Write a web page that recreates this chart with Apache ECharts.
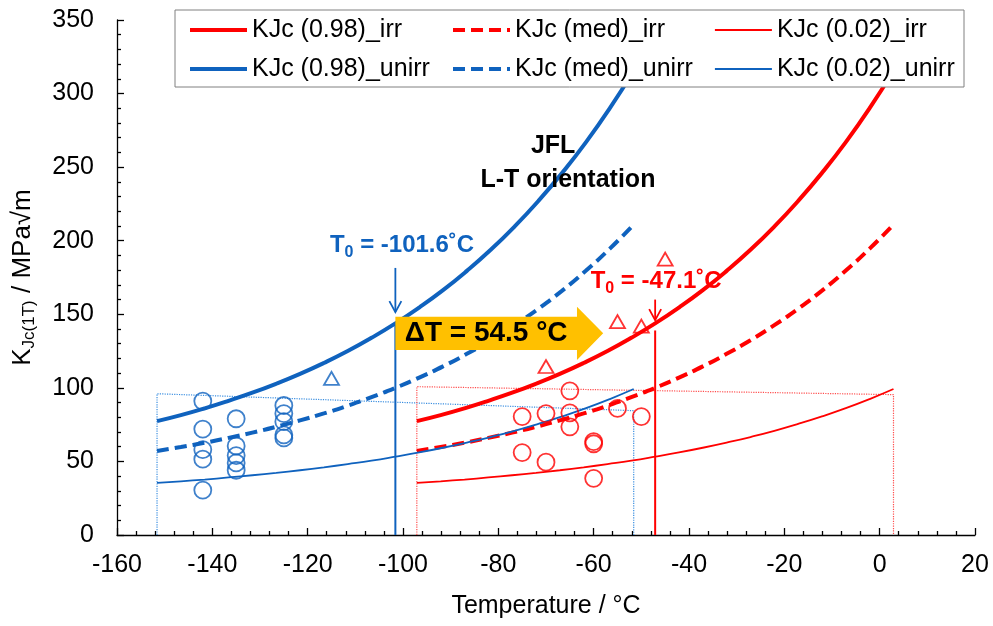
<!DOCTYPE html>
<html>
<head>
<meta charset="utf-8">
<script src="https://cdn.jsdelivr.net/npm/echarts@6/dist/echarts.min.js"></script>
<style>
  html, body { margin: 0; padding: 0; background: #fff; }
  #chart { width: 993px; height: 626px; }
</style>
</head>
<body>
<div id="chart"></div>
<script>
// Master-curve tolerance bounds, sampled every 5 °C from T0 - 50 to T0 + 50
const tempUnirr = [-151.6, -146.6, -141.6, -136.6, -131.6, -126.6, -121.6, -116.6, -111.6, -106.6, -101.6,
                   -96.6, -91.6, -86.6, -81.6, -76.6, -71.6, -66.6, -61.6, -56.6, -51.6];
const tempIrr = [-97.1, -92.1, -87.1, -82.1, -77.1, -72.1, -67.1, -62.1, -57.1, -52.1, -47.1,
                 -42.1, -37.1, -32.1, -27.1, -22.1, -17.1, -12.1, -7.1, -2.1, 2.9];
const kjc98 = [77.4, 81.5, 86.1, 91.2, 96.7, 102.8, 109.5, 116.9, 125.0, 134.0, 143.8,
               154.6, 166.4, 179.5, 193.8, 209.6, 227.0, 246.1, 267.0, 290.1, 315.5];
const kjcMed = [57.1, 59.8, 62.7, 66.0, 69.6, 73.5, 77.9, 82.6, 87.9, 93.7, 100.0,
                107.0, 114.6, 123.1, 132.4, 142.6, 153.8, 166.1, 179.7, 194.6, 211.0];
const kjc02 = [35.4, 36.5, 37.7, 39.1, 40.6, 42.2, 44.0, 46.0, 48.2, 50.5, 53.2,
               56.1, 59.3, 62.8, 66.6, 70.8, 75.5, 80.6, 86.2, 92.4, 99.2];

// Reference temperatures
const t0Unirr = -101.6;
const t0Irr = -47.1;

// Measured K_Jc(1T) values [temperature, K]
const unirrValid = [[-142, 91], [-142, 72], [-142, 58], [-142, 51.5], [-142, 30.5],
                    [-135, 79], [-135, 60.5], [-135, 54], [-135, 49], [-135, 44],
                    [-125, 88], [-125, 82.5], [-125, 77], [-125, 68], [-125, 66]];
const unirrCensored = [[-115, 106.5]];
const irrValid = [[-75, 80.5], [-75, 56], [-70, 82.5], [-70, 49.5],
                  [-65, 98], [-65, 83], [-65, 73.5],
                  [-60, 63.5], [-60, 62], [-60, 38.5], [-55, 86], [-50, 80.5]];
const irrCensored = [[-70, 114.5], [-55, 145], [-50, 142], [-45, 187.5]];

// Validity windows (T0 ± 50 °C, K_Jc limit)
const unirrWindow = [[-151.6, 0], [-151.6, 96], [-51.6, 84.5], [-51.6, 0]];
const irrWindow = [[-97.1, 0], [-97.1, 100.8], [2.9, 95.4], [2.9, 0]];

// T0 markers (vertical lines)
const t0LineUnirr = [[t0Unirr, 0], [t0Unirr, 143.8]];
const t0LineIrr = [[t0Irr, 0], [t0Irr, 139]];

// Shift arrow geometry in data units
const shiftArrow = { from: -101.6, headBase: -63.5, tip: -58, top: 148.4, bottom: 125.8, headTop: 155.2, headBottom: 119 };
const shiftText = 'ΔT = 54.5 °C';

const legendNames = ['KJc (0.98)_irr', 'KJc (med)_irr', 'KJc (0.02)_irr',
                     'KJc (0.98)_unirr', 'KJc (med)_unirr', 'KJc (0.02)_unirr'];

const BLUE = '#0F62BE';
const RED = '#FF0000';
const FONT = '"Liberation Sans", Arial, sans-serif';
const THICK = 4;
const THIN = 1.8;

const zip = (xs, ys) => xs.map((x, i) => [x, ys[i]]);

function curve(name, xs, ys, color, width, dashed) {
  return {
    name, type: 'line', data: zip(xs, ys), smooth: true, symbol: 'none',
    lineStyle: { color, width, type: dashed ? [12, 6] : 'solid' },
    itemStyle: { color },
    z: 3
  };
}
function plain(data, color, width, type) {
  return {
    type: 'line', data, symbol: 'none', silent: true,
    lineStyle: { color, width, type }, z: 2
  };
}
function points(data, color, symbol, size) {
  return {
    type: 'scatter', data, symbol, symbolSize: size,
    itemStyle: { color: 'transparent', borderColor: color, borderWidth: 1.8 },
    z: 4
  };
}

// Legend laid out as a 3 x 2 table inside a framed box
const legendBox = { x: 175, y: 10, width: 789, height: 77 };
const legendColumns = [188, 451, 714];
const legendRows = [17, 56];
const legendWidths = [THICK, THICK, THIN, THICK, THICK, THIN];
const legends = legendNames.map((name, i) => ({
  data: [name],
  left: legendColumns[i % 3], top: legendRows[Math.floor(i / 3)],
  padding: 0, itemWidth: 57, itemHeight: 14, z: 10,
  itemStyle: { opacity: 0, borderWidth: 0 },
  lineStyle: { width: legendWidths[i] },
  textStyle: { fontSize: 25, lineHeight: 26, color: '#000', fontFamily: FONT },
  selectedMode: false
}));

const axisBlack = { color: '#000', width: 1.3 };

const chart = echarts.init(document.getElementById('chart'));
chart.setOption({
  animation: false,
  backgroundColor: '#fff',
  textStyle: { fontFamily: FONT },
  grid: { left: 117, right: 18, top: 20, bottom: 91 },
  legend: legends,
  xAxis: {
    type: 'value', min: -160, max: 20, interval: 20,
    axisLine: { onZero: false, lineStyle: axisBlack },
    axisTick: { inside: true, length: 7, lineStyle: axisBlack },
    minorTick: { show: true, splitNumber: 5, length: 4, lineStyle: axisBlack },
    splitLine: { show: false },
    axisLabel: { fontSize: 25, color: '#000', margin: 18, fontFamily: FONT },
    name: 'Temperature / °C', nameLocation: 'middle', nameGap: 59,
    nameTextStyle: { fontSize: 25, color: '#000', fontFamily: FONT }
  },
  yAxis: {
    type: 'value', min: 0, max: 350, interval: 50,
    axisLine: { onZero: false, lineStyle: axisBlack },
    axisTick: { inside: true, length: 7, lineStyle: axisBlack },
    minorTick: { show: true, splitNumber: 5, length: 4, lineStyle: axisBlack },
    splitLine: { show: false },
    axisLabel: { fontSize: 25, color: '#000', margin: 23, fontFamily: FONT },
    name: '{k|K}{s|Jc(1T)}{k| / MPa√m}', nameLocation: 'middle', nameGap: 79,
    nameTextStyle: {
      color: '#000', fontFamily: FONT,
      rich: {
        k: { fontSize: 26, lineHeight: 30, color: '#000', fontFamily: FONT },
        s: { fontSize: 17, lineHeight: 17, verticalAlign: 'bottom', color: '#000', fontFamily: FONT }
      }
    }
  },
  series: [
    plain(unirrWindow, '#3A8EE0', 1.2, 'dotted'),
    plain(irrWindow, '#FF4D4D', 1.2, 'dotted'),
    plain(t0LineUnirr, BLUE, 2, 'solid'),
    plain(t0LineIrr, RED, 2, 'solid'),
    curve(legendNames[0], tempIrr, kjc98, RED, THICK, false),
    curve(legendNames[1], tempIrr, kjcMed, RED, THICK, true),
    curve(legendNames[2], tempIrr, kjc02, RED, THIN, false),
    curve(legendNames[3], tempUnirr, kjc98, BLUE, THICK, false),
    curve(legendNames[4], tempUnirr, kjcMed, BLUE, THICK, true),
    curve(legendNames[5], tempUnirr, kjc02, BLUE, THIN, false),
    points(unirrValid, BLUE, 'circle', 17),
    points(irrValid, RED, 'circle', 17),
    points(unirrCensored, BLUE, 'triangle', [15, 13]),
    points(irrCensored, RED, 'triangle', [15, 13])
  ]
});

// Annotations placed from data coordinates
const px = (x, y) => chart.convertToPixel({ xAxisIndex: 0, yAxisIndex: 0 }, [x, y]);

function downArrow(x, yFrom, yTo, color) {
  const a = px(x, yFrom), b = px(x, yTo);
  return [
    { type: 'line', z: 20, shape: { x1: a[0], y1: a[1], x2: b[0], y2: b[1] },
      style: { stroke: color, lineWidth: 1.8 } },
    { type: 'polyline', z: 20,
      shape: { points: [[b[0] - 6, b[1] - 11], [b[0], b[1]], [b[0] + 6, b[1] - 11]] },
      style: { stroke: color, lineWidth: 1.8, fill: null } }
  ];
}

function t0Label(x, y, value, color) {
  const p = px(x, y);
  return {
    type: 'text', z: 20, x: p[0], y: p[1],
    style: {
      text: '{a|T}{s|0}{a| = ' + value + '˚C}',
      align: 'center', verticalAlign: 'middle',
      textAlign: 'center', textVerticalAlign: 'middle',
      rich: {
        a: { fontSize: 24, fontWeight: 'bold', fontFamily: FONT, fill: color, lineHeight: 30 },
        s: { fontSize: 16, fontWeight: 'bold', fontFamily: FONT, fill: color, lineHeight: 16, verticalAlign: 'bottom' }
      }
    }
  };
}

function boldText(x, y, text, size) {
  const p = px(x, y);
  return {
    type: 'text', z: 20, x: p[0], y: p[1],
    style: {
      text, fontSize: size, fontWeight: 'bold', fontFamily: FONT, fill: '#000',
      align: 'center', verticalAlign: 'middle', textAlign: 'center', textVerticalAlign: 'middle'
    }
  };
}

const s = shiftArrow;
const arrowPts = [
  px(s.from, s.top), px(s.headBase, s.top), px(s.headBase, s.headTop),
  px(s.tip, (s.top + s.bottom) / 2),
  px(s.headBase, s.headBottom), px(s.headBase, s.bottom), px(s.from, s.bottom)
];
const arrowMid = px((s.from + s.headBase) / 2, (s.top + s.bottom) / 2);

chart.setOption({
  graphic: [
    { type: 'rect', z: 9, shape: legendBox,
      style: { fill: '#fff', stroke: '#808080', lineWidth: 1 } },
    { type: 'polygon', z: 15, shape: { points: arrowPts }, style: { fill: '#FFC000', stroke: null } },
    { type: 'text', z: 16, x: arrowMid[0], y: arrowMid[1],
      style: { text: shiftText, fontSize: 28, fontWeight: 'bold', fontFamily: FONT, fill: '#000',
               align: 'center', verticalAlign: 'middle', textAlign: 'center', textVerticalAlign: 'middle' } },
    ...downArrow(t0Unirr, 181.5, 151.5, BLUE),
    ...downArrow(t0Irr, 160, 146, RED),
    t0Label(-100.2, 196.5, '-101.6', BLUE),
    t0Label(-46.9, 172.5, '-47.1', RED),
    boldText(-68.5, 264.5, 'JFL', 25),
    boldText(-65.4, 241.3, 'L-T orientation', 25)
  ]
});
</script>
</body>
</html>
